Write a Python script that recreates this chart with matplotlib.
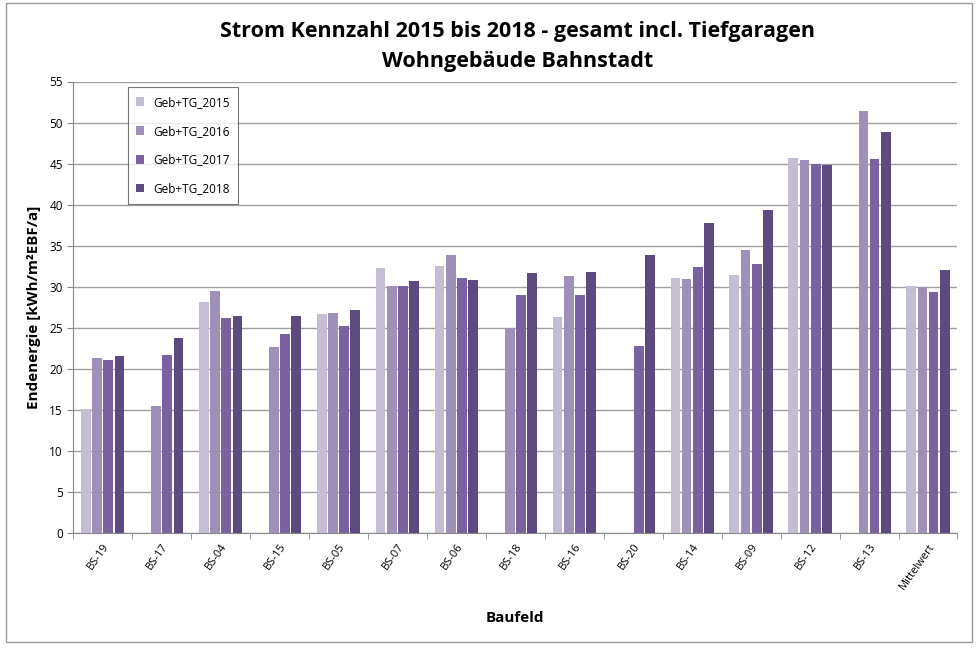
import numpy as np
import matplotlib.pyplot as plt
from matplotlib.patches import Rectangle

nan = np.nan
baufelder = ["BS-19", "BS-17", "BS-04", "BS-15", "BS-05", "BS-07", "BS-06", "BS-18",
             "BS-16", "BS-20", "BS-14", "BS-09", "BS-12", "BS-13", "Mittelwert"]
tg_2015 = [15.1, nan, 28.1, nan, 26.6, 32.3, 32.5, nan, 26.3, nan, 31.1, 31.4, 45.7, nan, 30.1]
tg_2016 = [21.3, 15.5, 29.5, 22.6, 26.8, 30.1, 33.8, 25.0, 31.3, nan, 30.9, 34.4, 45.4, 51.4, 29.9]
tg_2017 = [21.0, 21.6, 26.2, 24.2, 25.2, 30.1, 31.0, 29.0, 29.0, 22.8, 32.4, 32.8, 45.0, 45.5, 29.3]
tg_2018 = [21.5, 23.7, 26.4, 26.4, 27.1, 30.7, 30.8, 31.6, 31.8, 33.9, 37.8, 39.3, 44.8, 48.8, 32.0]

series = [("Geb+TG_2015", tg_2015, "#c4bdd4"),
          ("Geb+TG_2016", tg_2016, "#9e90b9"),
          ("Geb+TG_2017", tg_2017, "#7a62a0"),
          ("Geb+TG_2018", tg_2018, "#5d4a80")]

plt.rcParams['font.family'] = ['Open Sans', 'DejaVu Sans']

fig = plt.figure(figsize=(9.76, 6.52), dpi=100)
ax = fig.add_axes([0.075, 0.183, 0.906, 0.692])

x = np.arange(len(baufelder))
w = 0.165
step = 0.19
for i, (name, vals, col) in enumerate(series):
    ax.bar(x + (i - 1.5) * step, vals, w, color=col, label=name, zorder=3)

ax.set_xlim(-0.5, len(baufelder) - 0.5)
ax.set_ylim(0, 55)
ax.set_yticks(range(0, 56, 5))
ax.yaxis.grid(True, color="#a0a0a0", linewidth=1.0, zorder=0)
ax.set_xticks(x)
ax.set_xticklabels(baufelder, rotation=55, ha="right", rotation_mode="anchor", fontsize=8)
ax.set_xticks(np.arange(-0.5, len(baufelder)), minor=True)
ax.tick_params(axis="x", which="major", length=0, pad=6)
ax.tick_params(axis="x", which="minor", length=4, color="#888888")
ax.tick_params(axis="y", length=4, color="#888888", labelsize=8.5)
for s in ["top", "right"]:
    ax.spines[s].set_visible(False)
ax.spines["left"].set_color("#888888")
ax.spines["bottom"].set_color("#888888")

ax.set_ylabel("Endenergie [kWh/m²EBF/a]", fontsize=11, fontweight="bold", labelpad=6)
ax.set_xlabel("Baufeld", fontsize=11, fontweight="bold", labelpad=14)
fig.suptitle("Strom Kennzahl 2015 bis 2018 - gesamt incl. Tiefgaragen\nWohngebäude Bahnstadt",
             fontsize=15.5, fontweight="bold", x=0.53, y=0.968, linespacing=1.6)

leg = ax.legend(loc="upper left", bbox_to_anchor=(0.055, 1.0), fontsize=8.5,
                frameon=True, fancybox=False, edgecolor="#555555",
                handlelength=0.7, handleheight=0.7, labelspacing=1.35, borderpad=0.7)
leg.get_frame().set_linewidth(0.8)

fig.patches.append(Rectangle((0.006, 0.015), 0.99, 0.98, transform=fig.transFigure,
                             fill=False, edgecolor="#999999", linewidth=1))

fig.savefig("out.png", dpi=100)
